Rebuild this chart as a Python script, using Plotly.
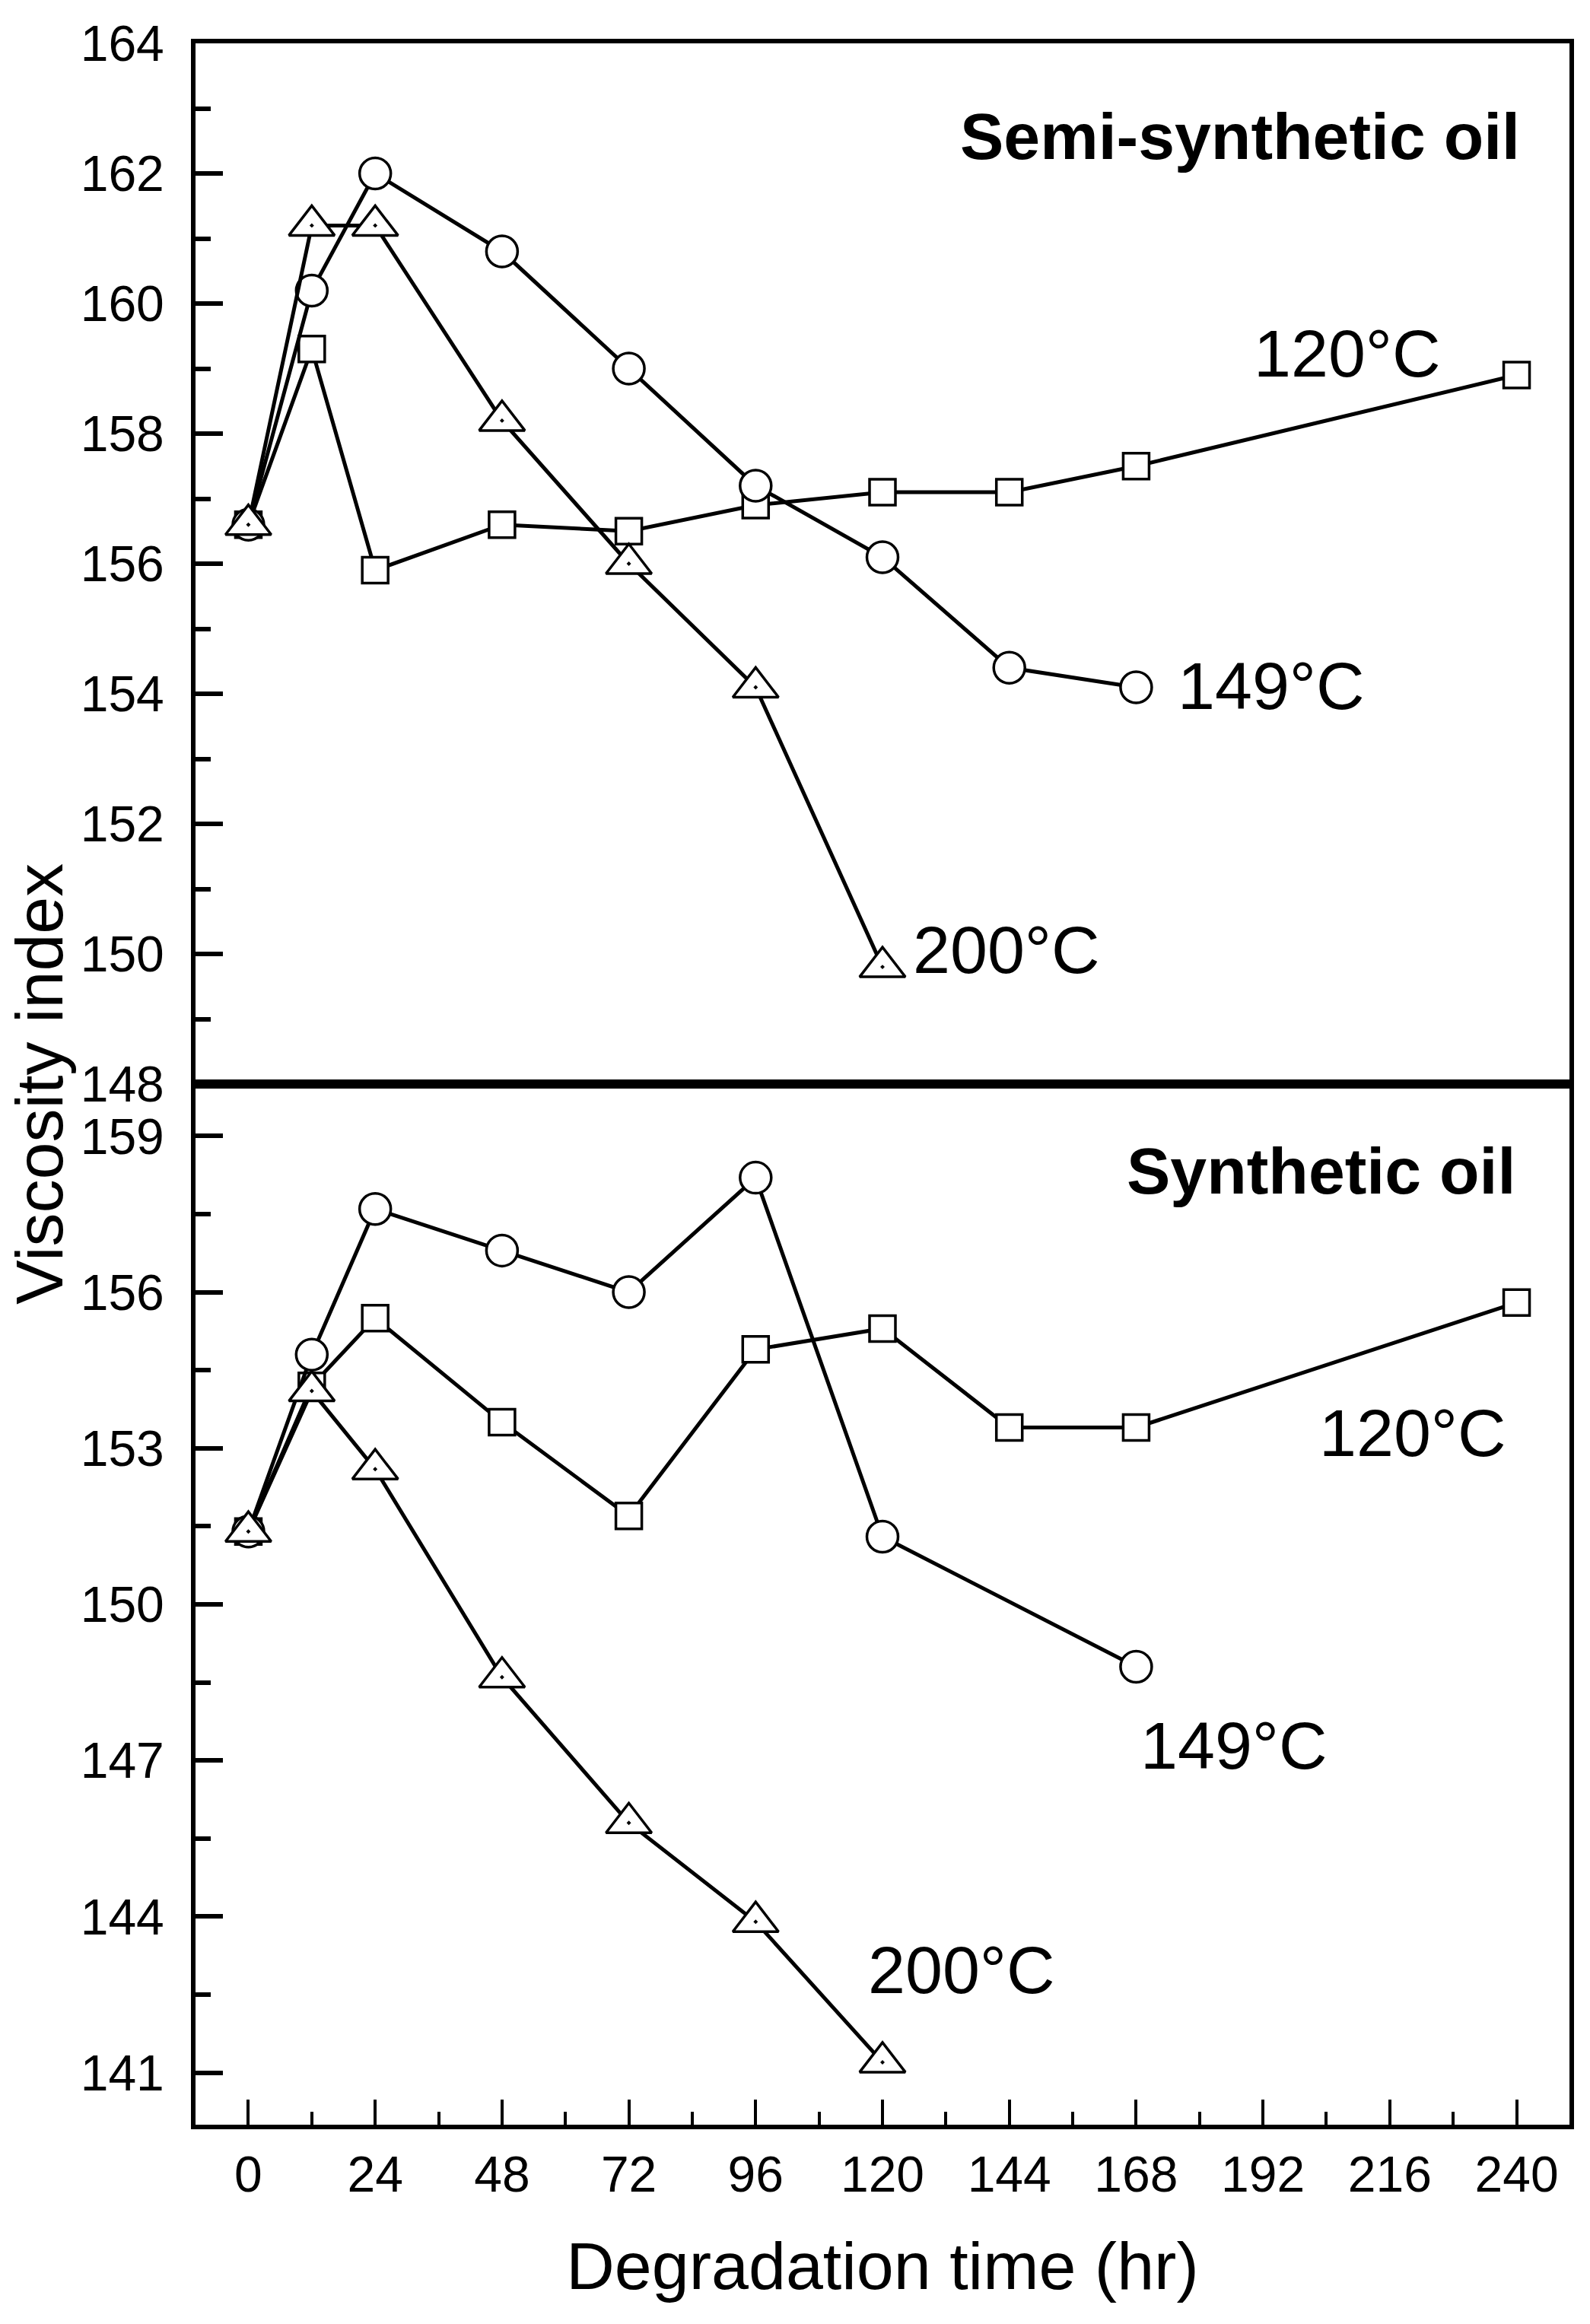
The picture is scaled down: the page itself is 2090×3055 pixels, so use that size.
import plotly.graph_objects as go

# ---------------- data ----------------
# Semi-synthetic oil (top panel)
semi_t_120 = [0, 12, 24, 48, 72, 96, 120, 144, 168, 240]
semi_vi_120 = [156.6, 159.3, 155.9, 156.6, 156.5, 156.9, 157.1, 157.1, 157.5, 158.9]
semi_t_149 = [0, 12, 24, 48, 72, 96, 120, 144, 168]
semi_vi_149 = [156.6, 160.2, 162.0, 160.8, 159.0, 157.2, 156.1, 154.4, 154.1]
semi_t_200 = [0, 12, 24, 48, 72, 96, 120]
semi_vi_200 = [156.6, 161.2, 161.2, 158.2, 156.0, 154.1, 149.8]

# Synthetic oil (bottom panel)
syn_t_120 = [0, 12, 24, 48, 72, 96, 120, 144, 168, 240]
syn_vi_120 = [151.4, 154.2, 155.5, 153.5, 151.7, 154.9, 155.3, 153.4, 153.4, 155.8]
syn_t_149 = [0, 12, 24, 48, 72, 96, 120, 168]
syn_vi_149 = [151.4, 154.8, 157.6, 156.8, 156.0, 158.2, 151.3, 148.8]
syn_t_200 = [0, 12, 24, 48, 72, 96, 120]
syn_vi_200 = [151.4, 154.1, 152.6, 148.6, 145.8, 143.9, 141.2]

x_tick_vals = [0, 24, 48, 72, 96, 120, 144, 168, 192, 216, 240]
# --------------------------------------

FONT = "Liberation Sans, Arial, sans-serif"
LW = 5
MLW = 3.5

def trace(x, y, symbol, size, xa, ya):
    return go.Scatter(
        x=x, y=y, mode="lines+markers", xaxis=xa, yaxis=ya,
        line=dict(color="black", width=LW),
        marker=dict(symbol=symbol, size=size, color="white",
                    line=dict(color="black", width=MLW)),
        showlegend=False, cliponaxis=False,
    )

fig = go.Figure()
# top panel
fig.add_trace(trace(semi_t_120, semi_vi_120, "square", 34, "x2", "y2"))
fig.add_trace(trace(semi_t_149, semi_vi_149, "circle", 41, "x2", "y2"))
fig.add_trace(trace(semi_t_200, semi_vi_200, "triangle-up-dot", 52, "x2", "y2"))
# bottom panel
fig.add_trace(trace(syn_t_120, syn_vi_120, "square", 34, "x", "y"))
fig.add_trace(trace(syn_t_149, syn_vi_149, "circle", 41, "x", "y"))
fig.add_trace(trace(syn_t_200, syn_vi_200, "triangle-up-dot", 52, "x", "y"))

tickfont = dict(family=FONT, size=66, color="black")

# the page body adds an 8 px offset; the figure is sized so the plot area
# lands where it does in the reference
fig.update_layout(
    template="none",
    width=2082, height=3047,
    margin=dict(l=249, r=27, t=49, b=262, autoexpand=False),
    paper_bgcolor="white", plot_bgcolor="white",
    font=dict(family=FONT, color="black"),
    xaxis=dict(
        domain=[0, 1], anchor="y", range=[-10, 250], automargin=False,
        tickmode="array", tickvals=x_tick_vals,
        ticks="inside", ticklen=33, tickwidth=4, tickcolor="black",
        minor=dict(tick0=0, dtick=12, ticks="inside", ticklen=17,
                   tickwidth=4, tickcolor="black"),
        showline=True, linewidth=6, linecolor="black", mirror=True,
        showgrid=False, zeroline=False,
        tickfont=tickfont, ticklabelstandoff=3,
        title=dict(text="Degradation time (hr)",
                   font=dict(family=FONT, size=88, color="black"),
                   standoff=55),
    ),
    yaxis=dict(
        domain=[0, 0.5], anchor="x", range=[140, 160], automargin=False,
        tick0=141, dtick=3,
        ticks="inside", ticklen=36, tickwidth=6, tickcolor="black",
        minor=dict(tick0=141, dtick=1.5, ticks="inside", ticklen=20,
                   tickwidth=6, tickcolor="black"),
        showline=True, linewidth=6, linecolor="black", mirror=True,
        showgrid=False, zeroline=False,
        tickfont=tickfont, ticklabelstandoff=22,
    ),
    xaxis2=dict(
        domain=[0, 1], anchor="y2", range=[-10, 250], matches="x", automargin=False,
        showticklabels=False, ticks="",
        showline=True, linewidth=6, linecolor="black", mirror=True,
        showgrid=False, zeroline=False,
    ),
    yaxis2=dict(
        domain=[0.5, 1], anchor="x2", range=[148, 164], automargin=False,
        tick0=148, dtick=2,
        ticks="inside", ticklen=36, tickwidth=6, tickcolor="black",
        minor=dict(tick0=148, dtick=1, ticks="inside", ticklen=20,
                   tickwidth=6, tickcolor="black"),
        showline=True, linewidth=6, linecolor="black", mirror=True,
        showgrid=False, zeroline=False,
        tickfont=tickfont, ticklabelstandoff=22,
    ),
)

ann_font = dict(family=FONT, size=88, color="black")
bold_font = dict(family=FONT, size=86, color="black")

annotations = [
    dict(text="<b>Semi-synthetic oil</b>", x=241.0, y=162.57, xref="x2", yref="y2",
         xanchor="right", yanchor="middle", font=bold_font),
    dict(text="120°C", x=190.0, y=159.23, xref="x2", yref="y2",
         xanchor="left", yanchor="middle", font=ann_font),
    dict(text="149°C", x=175.5, y=154.12, xref="x2", yref="y2",
         xanchor="left", yanchor="middle", font=ann_font),
    dict(text="200°C", x=125.5, y=150.06, xref="x2", yref="y2",
         xanchor="left", yanchor="middle", font=ann_font),
    dict(text="<b>Synthetic oil</b>", x=240.1, y=158.34, xref="x", yref="y",
         xanchor="right", yanchor="middle", font=bold_font),
    dict(text="120°C", x=202.3, y=153.29, xref="x", yref="y",
         xanchor="left", yanchor="middle", font=ann_font),
    dict(text="149°C", x=168.5, y=147.29, xref="x", yref="y",
         xanchor="left", yanchor="middle", font=ann_font),
    dict(text="200°C", x=117.0, y=142.98, xref="x", yref="y",
         xanchor="left", yanchor="middle", font=ann_font),
    dict(text="Viscosity index", x=-0.114, y=0.5, xref="paper", yref="paper",
         xanchor="center", yanchor="middle", textangle=-90,
         font=dict(family=FONT, size=88, color="black")),
]
for a in annotations:
    a["showarrow"] = False
    fig.add_annotation(**a)

fig.write_html("out.html")
